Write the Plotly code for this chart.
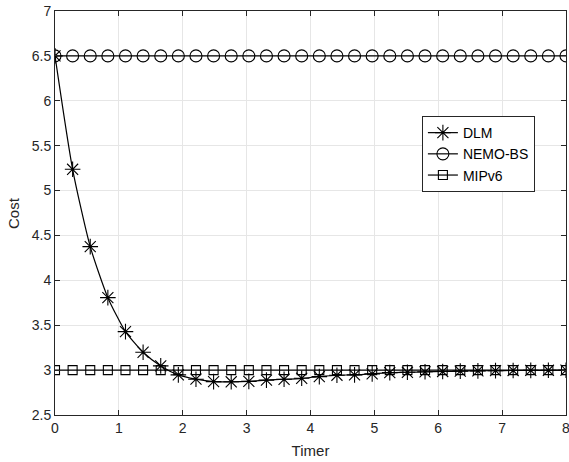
import plotly.graph_objects as go

timer = [round(8 * i / 29, 4) for i in range(30)]
dlm = [6.5, 5.237, 4.375, 3.807, 3.429, 3.199, 3.047, 2.947, 2.899, 2.872,
       2.870, 2.875, 2.889, 2.898, 2.909, 2.928, 2.943, 2.947, 2.958, 2.972,
       2.976, 2.981, 2.985, 2.989, 2.992, 2.994, 2.996, 2.997, 2.998, 2.999]
nemo_bs = [6.5] * 30
mipv6 = [3.0] * 30
x_ticks = [0, 1, 2, 3, 4, 5, 6, 7, 8]
y_ticks = [2.5, 3, 3.5, 4, 4.5, 5, 5.5, 6, 6.5, 7]

FONT = "Liberation Sans"

fig = go.Figure()
fig.add_trace(go.Scatter(x=timer, y=dlm, name="DLM", mode="lines+markers",
                         line=dict(color="black", width=1.2, shape="spline", smoothing=0.6),
                         marker=dict(symbol="asterisk-open", size=13, color="black",
                                     line=dict(color="black", width=1.1))))
fig.add_trace(go.Scatter(x=timer, y=nemo_bs, name="NEMO-BS", mode="lines+markers",
                         line=dict(color="black", width=1.2),
                         marker=dict(symbol="circle-open", size=12, color="black",
                                     line=dict(color="black", width=1.1))))
fig.add_trace(go.Scatter(x=timer, y=mipv6, name="MIPv6", mode="lines+markers",
                         line=dict(color="black", width=1.2),
                         marker=dict(symbol="square-open", size=9, color="black",
                                     line=dict(color="black", width=1.1))))

axis_common = dict(showgrid=True, gridcolor="#e6e6e6", gridwidth=1,
                   showline=True, linecolor="#262626", linewidth=1, mirror="ticks",
                   ticks="inside", ticklen=5, tickcolor="#262626", automargin=False,
                   ticklabeloverflow="allow",
                   zeroline=False, tickfont=dict(family=FONT, size=14, color="#262626"))

fig.update_xaxes(range=[0, 8], tickvals=x_ticks, ticktext=[str(v) for v in x_ticks],
                 title=dict(text="Timer", standoff=10,
                            font=dict(family=FONT, size=15, color="#262626")), **axis_common)
fig.update_yaxes(range=[2.5, 7], tickvals=y_ticks, ticktext=[f"{v:g}" for v in y_ticks],
                 **axis_common)

fig.add_annotation(text="Cost", x=0, y=0.5, xref="paper", yref="paper",
                   xanchor="center", yanchor="middle", xshift=-42, textangle=-90,
                   showarrow=False, font=dict(family=FONT, size=15, color="#262626"))

fig.update_layout(
    width=569, height=462,
    margin=dict(l=55, r=3, t=11, b=47),
    plot_bgcolor="white", paper_bgcolor="white",
    legend=dict(x=0.718, y=0.74, xanchor="left", yanchor="top",
                bgcolor="white", bordercolor="#262626", borderwidth=1,
                font=dict(family=FONT, size=14, color="black"),
                tracegroupgap=0, itemwidth=30),
    showlegend=True,
)

fig.write_html("out.html", config={"displayModeBar": False},
               post_script="document.body.style.margin='0';document.body.style.overflow='hidden';")
